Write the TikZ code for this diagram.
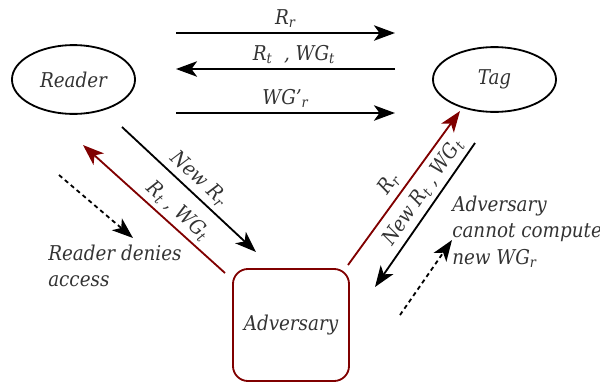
\documentclass[tikz,border=0pt]{standalone}
\usepackage{fontspec}
\setmainfont{DejaVu Serif Condensed}
\usetikzlibrary{arrows.meta,shapes.geometric}
\definecolor{advred}{RGB}{128,0,0}
\definecolor{txtgray}{RGB}{51,51,51}
\newcommand{\sbs}[1]{\textsubscript{#1}}

\begin{document}
\begin{tikzpicture}[x=0.025cm,y=-0.025cm,
  every node/.style={font=\fontsize{14.5}{18.6}\selectfont\itshape, text=txtgray},
  msg/.style={line width=1.3pt,-{Stealth[length=15pt,width=11pt,inset=4pt]}},
  hint/.style={msg,dash pattern=on 3pt off 2.5pt},
  party/.style={draw,ellipse,line width=1.3pt,minimum width=3.075cm,minimum height=1.72cm}]
\useasboundingbox (0,0) rectangle (600,383);

\node[party] (rd) at (73.5,79.5) {Reader};
\node[party,minimum height=1.62cm] (tg) at (494.5,79.5) {Tag};
\node[draw=advred,line width=1.3pt,rounded corners=0.375cm,minimum width=2.9cm,minimum height=2.8cm] (adv) at (291,325) {Adversary};

\coordinate (top1) at (176,33);
\coordinate (top2) at (395,33);
\coordinate (mid1) at (395,69);
\coordinate (mid2) at (176,69);
\coordinate (low1) at (176,113);
\coordinate (low2) at (395,113);
\draw[msg] (top1) -- (top2) node[midway,above] (lrr) {R\sbs{r}};
\draw[msg] (mid1) -- (mid2) node[midway,above,xshift=6] (lrt) {R\sbs{t}\ \ , WG\sbs{t}};
\draw[msg] (low1) -- (low2) node[midway,above] (lwg) {WG'\sbs{r}};

\coordinate (nr1) at (122,127);
\coordinate (nr2) at (256,252);
\coordinate (rt1) at (225,273);
\coordinate (rt2) at (83,145);
\draw[msg] (nr1) -- (nr2) node[midway,sloped,above] (lnr) {New R\sbs{r}};
\draw[msg,advred] (rt1) -- (rt2) node[pos=0.4,sloped,above] (lrw) {R\sbs{t} , WG\sbs{t}};

\coordinate (tr1) at (348,265);
\coordinate (tr2) at (460,111);
\coordinate (nt1) at (475,143);
\coordinate (nt2) at (375,287);
\draw[msg,advred] (tr1) -- (tr2) node[pos=0.47,sloped,above] (ltr) {R\sbs{r}};
\draw[msg] (nt1) -- (nt2) node[pos=0.4,sloped,above] (lnt) {New R\sbs{t} , WG\sbs{t}};

\coordinate (d1) at (59,175);
\coordinate (d2) at (133,238);
\coordinate (c1) at (400,315);
\coordinate (c2) at (452,240);
\draw[hint] (d1) -- (d2);
\draw[hint] (c1) -- (c2);

\node[align=left,anchor=north west,inner sep=0] (deny) at (48,245) {Reader denies\\access};
\node[align=left,anchor=north west,inner sep=0] (cant) at (452,196) {Adversary\\cannot compute\\new WG\sbs{r}};
\end{tikzpicture}
\end{document}
